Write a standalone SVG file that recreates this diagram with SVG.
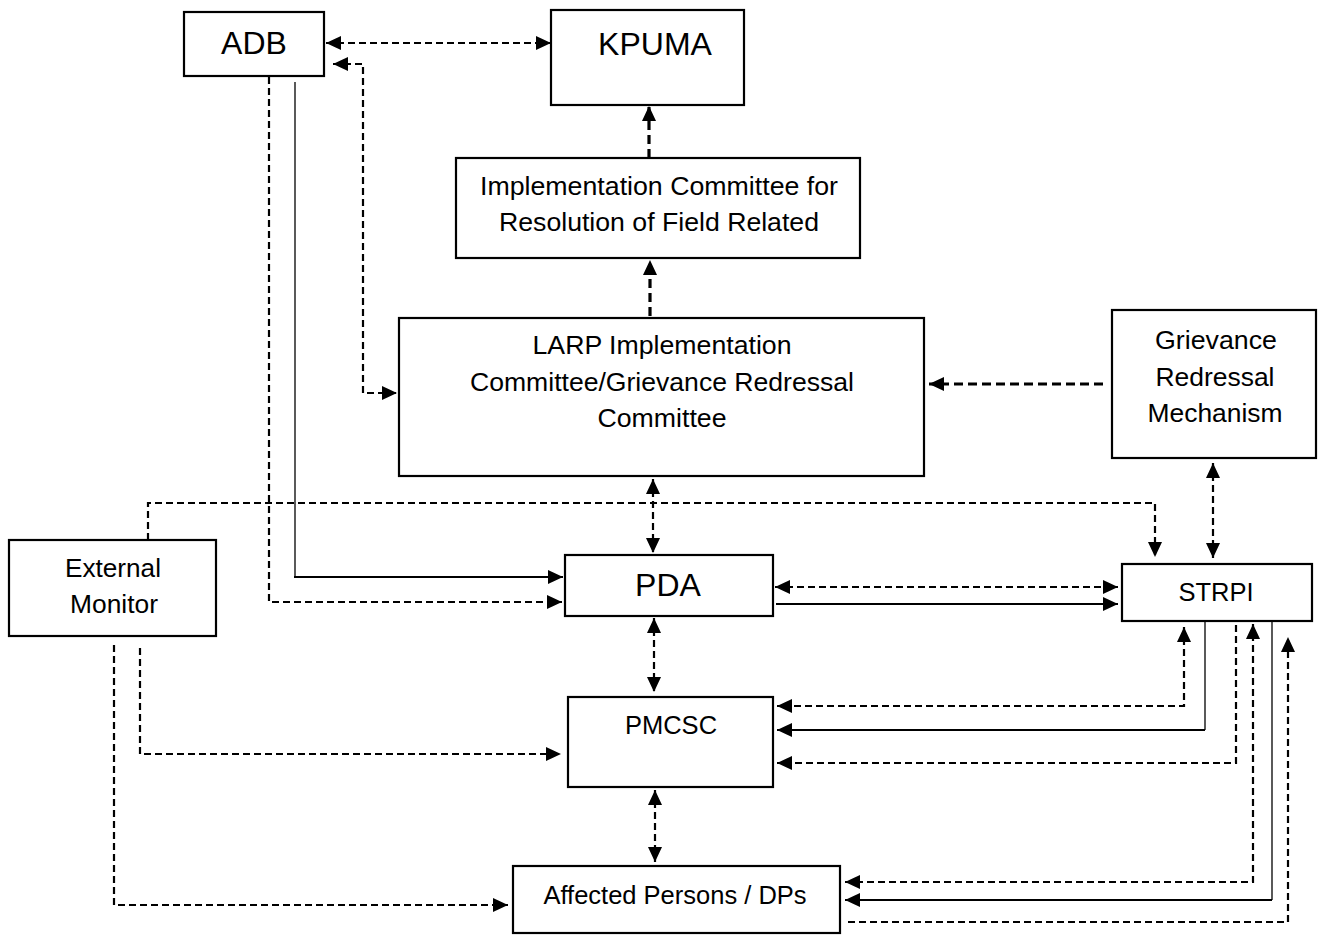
<svg xmlns="http://www.w3.org/2000/svg" width="1325" height="935" viewBox="0 0 1325 935">
<style>
.box{fill:#fff;stroke:#000;stroke-width:2.2}
.t{font-family:"Liberation Sans",Arial,sans-serif;fill:#000;text-anchor:middle}
.big{font-size:32px}
.mid{font-size:25.5px}
.sm{font-size:26px}
.c{fill:none;stroke:#000}
.d{stroke-width:2.2;stroke-dasharray:7 4}
.dt{stroke-width:3.2;stroke-dasharray:9 5}
.s{stroke-width:2}
.th{stroke-width:1.3}
</style>
<defs>
<marker id="a" markerUnits="userSpaceOnUse" markerWidth="15" markerHeight="14" refX="15" refY="7" orient="auto-start-reverse"><path d="M0,0 L15,7 L0,14 z" fill="#000"/></marker>
</defs>
<rect width="1325" height="935" fill="#fff"/>
<g id="connectors">
<path class="c d" d="M326,43 H551" marker-start="url(#a)" marker-end="url(#a)"/>
<path class="c d" d="M333,64 H363 V393 H397" marker-start="url(#a)" marker-end="url(#a)"/>
<path class="c th" d="M295,82 V577"/>
<path class="c s" d="M294,577 H563" marker-end="url(#a)"/>
<path class="c d" d="M269,77 V602 H562" marker-end="url(#a)"/>
<path class="c dt" d="M649,158 V106" marker-end="url(#a)"/>
<path class="c dt" d="M650,316 V260" marker-end="url(#a)"/>
<path class="c dt" d="M1103,384 H929" marker-end="url(#a)"/>
<path class="c d" d="M653,479 V553" marker-start="url(#a)" marker-end="url(#a)"/>
<path class="c d" d="M148,540 V503 H1155 V557" marker-end="url(#a)"/>
<path class="c d" d="M1213,463 V558" marker-start="url(#a)" marker-end="url(#a)"/>
<path class="c d" d="M775,587 H1118" marker-start="url(#a)" marker-end="url(#a)"/>
<path class="c s" d="M776,604 H1118" marker-end="url(#a)"/>
<path class="c d" d="M654,618 V692" marker-start="url(#a)" marker-end="url(#a)"/>
<path class="c d" d="M1184,627 V706 H777" marker-start="url(#a)" marker-end="url(#a)"/>
<path class="c th" d="M1205,622 V730"/>
<path class="c s" d="M1205,730 H777" marker-end="url(#a)"/>
<path class="c d" d="M1236,625 V763 H777" marker-end="url(#a)"/>
<path class="c d" d="M845,882 H1253 V624" marker-start="url(#a)" marker-end="url(#a)"/>
<path class="c th" d="M1272,622 V900"/>
<path class="c s" d="M1272,900 H845" marker-end="url(#a)"/>
<path class="c d" d="M848,922 H1288 V637" marker-end="url(#a)"/>
<path class="c d" d="M655,790 V862" marker-start="url(#a)" marker-end="url(#a)"/>
<path class="c d" d="M140,648 V754 H561" marker-end="url(#a)"/>
<path class="c d" d="M114,645 V905 H508" marker-end="url(#a)"/>
</g>
<g id="adb"><rect class="box" x="184" y="12" width="140" height="64"/><text class="t big" x="254" y="54">ADB</text></g>
<g id="kpuma"><rect class="box" x="551" y="10" width="193" height="95"/><text class="t big" x="655" y="55">KPUMA</text></g>
<g id="impl"><rect class="box" x="456" y="158" width="404" height="100"/>
<text class="t sm" x="659" y="195" textLength="358" lengthAdjust="spacingAndGlyphs">Implementation Committee for</text>
<text class="t sm" x="659" y="231" textLength="320" lengthAdjust="spacingAndGlyphs">Resolution of Field Related</text></g>
<g id="larp"><rect class="box" x="399" y="318" width="525" height="158"/>
<text class="t sm" x="662" y="354" textLength="259" lengthAdjust="spacingAndGlyphs">LARP Implementation</text>
<text class="t sm" x="662" y="391" textLength="384" lengthAdjust="spacingAndGlyphs">Committee/Grievance Redressal</text>
<text class="t sm" x="662" y="427" textLength="129" lengthAdjust="spacingAndGlyphs">Committee</text></g>
<g id="grm"><rect class="box" x="1112" y="310" width="204" height="148"/>
<text class="t sm" x="1216" y="349" textLength="122" lengthAdjust="spacingAndGlyphs">Grievance</text>
<text class="t sm" x="1215" y="386" textLength="119" lengthAdjust="spacingAndGlyphs">Redressal</text>
<text class="t sm" x="1215" y="422" textLength="135" lengthAdjust="spacingAndGlyphs">Mechanism</text></g>
<g id="extmon"><rect class="box" x="9" y="540" width="207" height="96"/>
<text class="t sm" x="113" y="577" textLength="96" lengthAdjust="spacingAndGlyphs">External</text>
<text class="t sm" x="114" y="613" textLength="88" lengthAdjust="spacingAndGlyphs">Monitor</text></g>
<g id="pda"><rect class="box" x="565" y="555" width="208" height="61"/><text class="t big" x="668" y="596">PDA</text></g>
<g id="strpi"><rect class="box" x="1122" y="564" width="190" height="57"/><text class="t mid" x="1216" y="601">STRPI</text></g>
<g id="pmcsc"><rect class="box" x="568" y="697" width="205" height="90"/><text class="t mid" x="671" y="734">PMCSC</text></g>
<g id="affected"><rect class="box" x="513" y="866" width="327" height="67"/><text class="t mid" x="675" y="904">Affected Persons / DPs</text></g>
</svg>
